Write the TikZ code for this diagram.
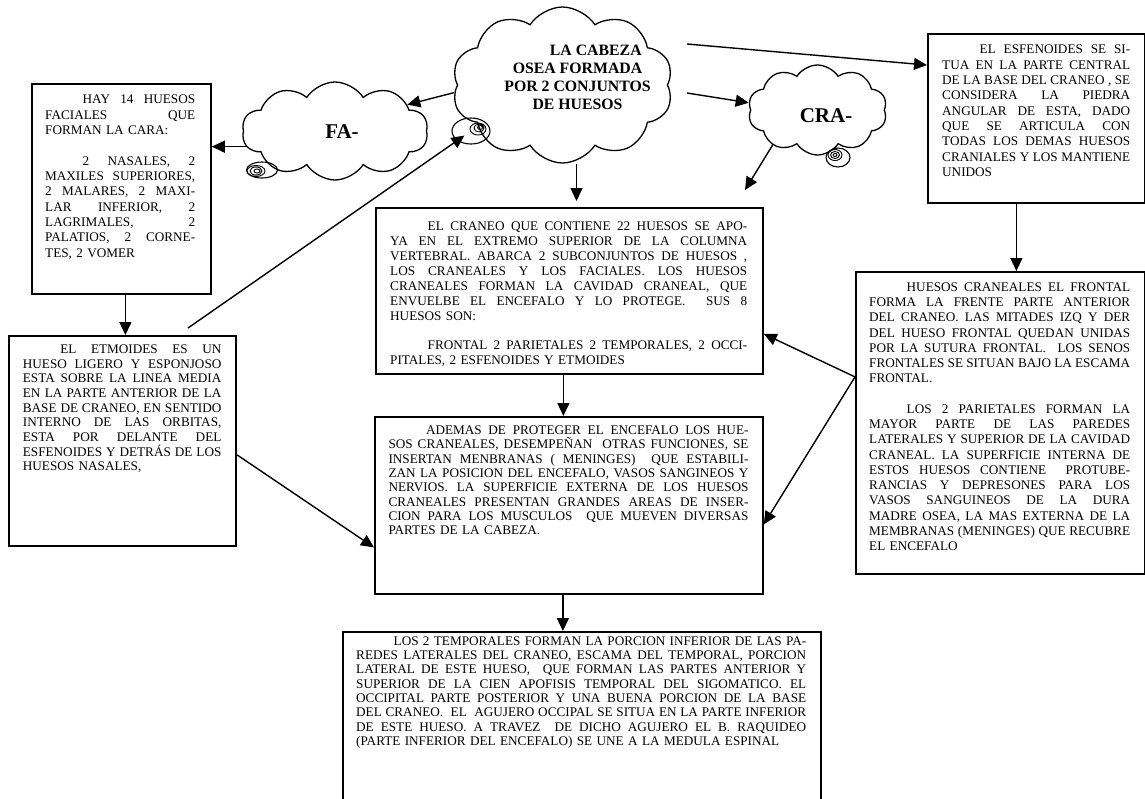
\documentclass[tikz,border=0pt]{standalone}
\usepackage{fontspec}
\setmainfont{Liberation Serif}
\usetikzlibrary{shapes.symbols,shapes.geometric,arrows.meta,calc}
\setlength{\parindent}{0pt}
\frenchspacing
% justified line, first justified line, last (ragged) line, blank line
\newcommand{\stretchsp}{\spaceskip=.25em plus 1fil minus .07em\relax}
\newcommand{\jl}[1]{\leavevmode\hbox to\hsize{\stretchsp #1}\par}
\newcommand{\fl}[1]{\leavevmode\hbox to\hsize{\rule{0pt}{10pt}\stretchsp #1}\par}
\newcommand{\el}[1]{#1\par}
\newcommand{\bl}{\mbox{}\par}
\newcommand{\ind}{\hspace*{37.5pt}}
\begin{document}
\begin{tikzpicture}[x=1pt,y=-1pt,
  panel/.style={draw, line width=1.8pt, inner sep=0pt, anchor=north west},
  body/.style={inner sep=0pt, anchor=north west, align=left},
  arr/.style={line width=1.4pt, -{Triangle[length=13pt,width=12pt]}},
  puff/.style={cloud, cloud puffs=10, cloud puff arc=115, cloud ignores aspect, draw, line width=1.3pt, inner sep=0pt},
  bubble/.style={draw, ellipse, line width=1.1pt, inner sep=0pt},
  swirl/.style={line width=0.9pt},
  cloudtext/.style={inner sep=0pt, align=center, font=\bfseries}]
\clip (0,0) rectangle (1145,798);
\fill[white] (0,0) rectangle (1145,798);

% ---------- clouds ----------
\node[puff, minimum width=221pt, minimum height=156pt] (head) at (562.5,85) {};
\node[cloudtext, font=\bfseries\fontsize{15.8}{17.7}\selectfont, anchor=north] (headtxt) at (577.5,45.3)
  {\hspace*{36.6pt}LA CABEZA\\OSEA FORMADA\\POR 2 CONJUNTOS\\DE HUESOS};
\node[bubble, minimum width=38pt, minimum height=26pt] (headtail) at (471,131) {};
\draw[swirl] (478,129) ellipse (8 and 6) (479,128) ellipse (5 and 4) (480,127.5) ellipse (2.5 and 2);

\node[puff, minimum width=186pt, minimum height=98pt] (fa) at (335,131) {};
\node[cloudtext, font=\bfseries\fontsize{21}{24}\selectfont] (fatxt) at (342,132) {FA-};
\node[bubble, minimum width=31pt, minimum height=16pt] (fatail) at (262,170) {};
\draw[swirl] (256,171) ellipse (9 and 5.5) (256,171) ellipse (6 and 4) (257,171) ellipse (3 and 2);

\node[puff, minimum width=139pt, minimum height=90pt] (cra) at (817.5,110) {};
\node[cloudtext, font=\bfseries\fontsize{21}{24}\selectfont] (cratxt) at (826,116) {CRA-};
\node[bubble, minimum width=24pt, minimum height=19pt] (cratail) at (838,157.5) {};
\draw[swirl] (835,155) ellipse (7 and 5.5) (835,155) ellipse (4.5 and 3.5) (835,155) ellipse (2 and 1.5);

% ---------- boxes ----------
\node[panel, minimum width=179pt, minimum height=210pt] (faces) at (31,83) {};
\node[body, text width=150pt, font=\fontsize{13.2}{15.33}\selectfont] (facestxt) at (45,93.7) {%
\fl{\ind HAY 14 HUESOS}
\jl{FACIALES QUE}
\el{FORMAN LA CARA:}
\bl
\jl{\ind 2 NASALES, 2}
\jl{MAXILES SUPERIORES,}
\jl{2 MALARES, 2 MAXI-}
\jl{LAR INFERIOR, 2}
\jl{LAGRIMALES, 2}
\jl{PALATIOS, 2 CORNE-}
\el{TES, 2 VOMER}};

\node[panel, minimum width=227pt, minimum height=210pt] (etm) at (8.3,335) {};
\node[body, text width=198.5pt, font=\fontsize{13.2}{14.67}\selectfont] (etmtxt) at (22.7,343.4) {%
\fl{\ind EL ETMOIDES ES UN}
\jl{HUESO LIGERO Y ESPONJOSO}
\jl{ESTA SOBRE LA LINEA MEDIA}
\jl{EN LA PARTE ANTERIOR DE LA}
\jl{BASE DE CRANEO, EN SENTIDO}
\jl{INTERNO DE LAS ORBITAS,}
\jl{ESTA POR DELANTE DEL}
\jl{ESFENOIDES Y DETRÁS DE LOS}
\el{HUESOS NASALES,}};

\node[panel, minimum width=387pt, minimum height=166pt] (cran) at (375,207) {};
\node[body, text width=357pt, font=\fontsize{13.2}{14.9}\selectfont] (crantxt) at (390,220.4) {%
\fl{\ind EL CRANEO QUE CONTIENE 22 HUESOS SE APO-}
\jl{YA EN EL EXTREMO SUPERIOR DE LA COLUMNA}
\jl{VERTEBRAL. ABARCA 2 SUBCONJUNTOS DE HUESOS ,}
\jl{LOS CRANEALES Y LOS FACIALES. LOS HUESOS}
\jl{CRANEALES FORMAN LA CAVIDAD CRANEAL, QUE}
\jl{ENVUELBE EL ENCEFALO Y LO PROTEGE.\ \ SUS 8}
\el{HUESOS SON:}
\bl
\jl{\ind FRONTAL 2 PARIETALES 2 TEMPORALES, 2 OCCI-}
\el{PITALES, 2 ESFENOIDES Y ETMOIDES}};

\node[panel, minimum width=388pt, minimum height=177pt] (func) at (374,416) {};
\node[body, text width=360pt, font=\fontsize{13.2}{14.33}\selectfont] (functxt) at (388.3,424.4) {%
\fl{\ind ADEMAS DE PROTEGER EL ENCEFALO LOS HUE-}
\jl{SOS CRANEALES, DESEMPEÑAN\ \ OTRAS FUNCIONES, SE}
\jl{INSERTAN MENBRANAS ( MENINGES)\ \ QUE ESTABILI-}
\jl{ZAN LA POSICION DEL ENCEFALO, VASOS SANGINEOS Y}
\jl{NERVIOS. LA SUPERFICIE EXTERNA DE LOS HUESOS}
\jl{CRANEALES PRESENTAN GRANDES AREAS DE INSER-}
\jl{CION PARA LOS MUSCULOS\ \ QUE MUEVEN DIVERSAS}
\el{PARTES DE LA CABEZA.}};

\node[panel, minimum width=478pt, minimum height=190pt] (temp) at (342,631) {};
\node[body, text width=450pt, font=\fontsize{13.2}{14.33}\selectfont] (temptxt) at (356,635) {%
\fl{\ind LOS 2 TEMPORALES FORMAN LA PORCION INFERIOR DE LAS PA-}
\jl{REDES LATERALES DEL CRANEO, ESCAMA DEL TEMPORAL, PORCION}
\jl{LATERAL DE ESTE HUESO,\ \ QUE FORMAN LAS PARTES ANTERIOR Y}
\jl{SUPERIOR DE LA CIEN APOFISIS TEMPORAL DEL SIGOMATICO. EL}
\jl{OCCIPITAL PARTE POSTERIOR Y UNA BUENA PORCION DE LA BASE}
\jl{DEL CRANEO.\ \ EL\ \ AGUJERO OCCIPAL SE SITUA EN LA PARTE INFERIOR}
\jl{DE ESTE HUESO. A TRAVEZ\ \ DE DICHO AGUJERO EL B. RAQUIDEO}
\el{(PARTE INFERIOR DEL ENCEFALO) SE UNE A LA MEDULA ESPINAL}};

\node[panel, minimum width=217pt, minimum height=169pt] (esf) at (927,33) {};
\node[body, text width=188pt, font=\fontsize{13.2}{15.3}\selectfont] (esftxt) at (942,43.7) {%
\fl{\ind EL ESFENOIDES SE SI-}
\jl{TUA EN LA PARTE CENTRAL}
\jl{DE LA BASE DEL CRANEO , SE}
\jl{CONSIDERA LA PIEDRA}
\jl{ANGULAR DE ESTA, DADO}
\jl{QUE SE ARTICULA CON}
\jl{TODAS LOS DEMAS HUESOS}
\jl{CRANIALES Y LOS MANTIENE}
\el{UNIDOS}};

\node[panel, minimum width=289pt, minimum height=302pt] (front) at (855,271) {};
\node[body, text width=261pt, font=\fontsize{13.2}{15.25}\selectfont] (fronttxt) at (869,281.1) {%
\fl{\ind HUESOS CRANEALES EL FRONTAL}
\jl{FORMA LA FRENTE PARTE ANTERIOR}
\jl{DEL CRANEO. LAS MITADES IZQ Y DER}
\jl{DEL HUESO FRONTAL QUEDAN UNIDAS}
\jl{POR LA SUTURA FRONTAL.\ \ LOS SENOS}
\jl{FRONTALES SE SITUAN BAJO LA ESCAMA}
\el{FRONTAL.}
\bl
\jl{\ind LOS 2 PARIETALES FORMAN LA}
\jl{MAYOR PARTE DE LAS PAREDES}
\jl{LATERALES Y SUPERIOR DE LA CAVIDAD}
\jl{CRANEAL. LA SUPERFICIE INTERNA DE}
\jl{ESTOS HUESOS CONTIENE\ \ PROTUBE-}
\jl{RANCIAS Y DEPRESONES PARA LOS}
\jl{VASOS SANGUINEOS DE LA DURA}
\jl{MADRE OSEA, LA MAS EXTERNA DE LA}
\jl{MEMBRANAS (MENINGES) QUE RECUBRE}
\el{EL ENCEFALO}};

% ---------- free ends of connectors ----------
\coordinate (toEsf) at (687,44);
\coordinate (toCra) at (687,93);
\coordinate (craEnd) at (745,190);
\coordinate (etmUp) at (188,328);
\coordinate (frontFork) at ([yshift=46pt]front.west);

% ---------- connectors ----------
\draw[arr] (head.184) -- (fa.20);
\draw[arr] (fa.190) -- (fa.190 -| faces.east);
\draw[arr] (toCra) -- (cra.174);
\draw[arr] (toEsf) -- (esf.154);
\draw[arr] (cra.218) -- (craEnd);
\draw[arr, shorten >=6pt] ([xshift=14pt]head.south) -- ([xshift=14pt]head.south |- cran.north);
\draw[arr] ([xshift=4pt]faces.south) -- ([xshift=4pt]faces.south |- etm.north);
\draw[arr, shorten >=8pt] (etmUp) -- (headtail.center);
\draw[arr] ([yshift=-14pt]etm.east) -- ([yshift=-42pt]func.west);
\draw[arr] ([xshift=-6pt]cran.south) -- ([xshift=-6pt]cran.south |- func.north);
\draw[arr] ([xshift=-6pt]func.south) -- ([xshift=-6pt]func.south |- temp.north);
\draw[arr] ([xshift=-20pt]esf.south) -- ([xshift=-20pt]esf.south |- front.north);
\draw[arr] (frontFork) -- ([yshift=-43pt]cran.east);
\draw[arr] (frontFork) -- ([yshift=-19pt]func.east);
\end{tikzpicture}
\end{document}
